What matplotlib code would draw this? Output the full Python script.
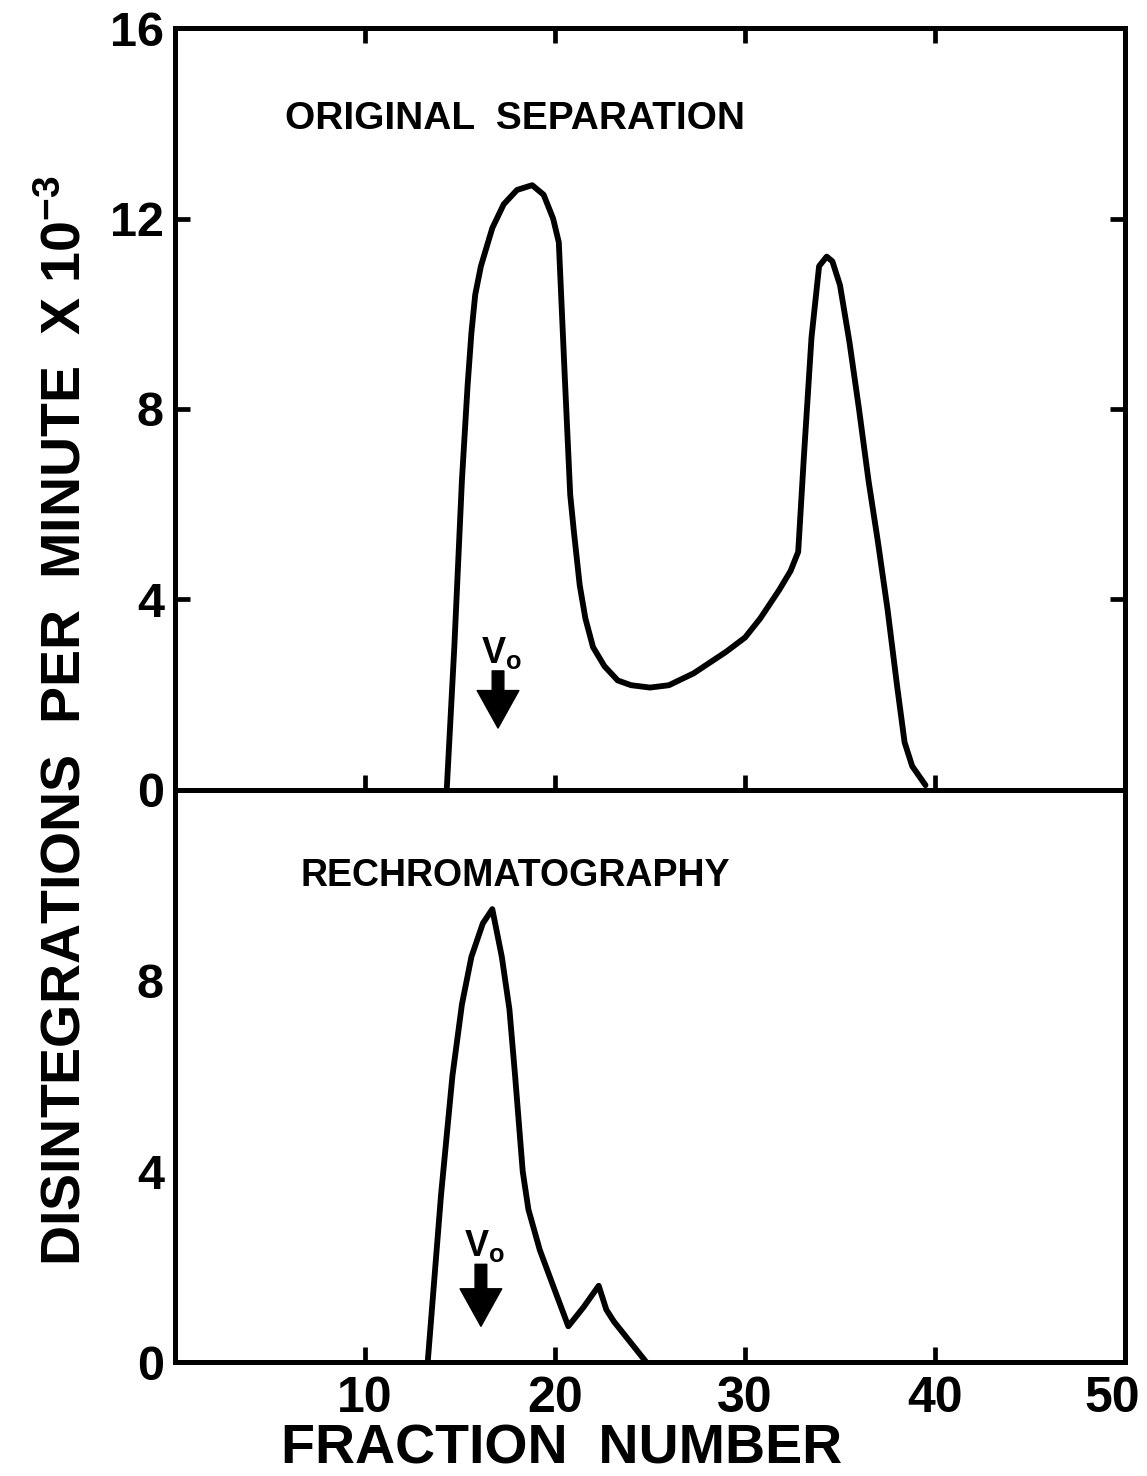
import numpy as np
import matplotlib.pyplot as plt
from matplotlib.transforms import ScaledTranslation

plt.rcParams['font.family'] = ['Liberation Sans', 'DejaVu Sans']
plt.rcParams['font.weight'] = 'bold'
plt.rcParams['mathtext.fontset'] = 'custom'
plt.rcParams['mathtext.rm'] = 'Liberation Sans:bold'
plt.rcParams['mathtext.default'] = 'rm'

# original separation (fraction number, dpm x 10^-3)
orig_x = [14.3, 14.7, 15.1, 15.4, 15.6, 15.8, 16.1, 16.7, 17.3, 18.0, 18.8, 19.4,
          19.9, 20.2, 20.5, 20.8, 21.0, 21.3, 21.6, 22.0, 22.6, 23.3, 24.0, 25.0,
          26.0, 27.3, 29.0, 30.0, 30.8, 31.8, 32.4, 32.8, 33.1, 33.5, 33.9, 34.3,
          34.6, 35.0, 35.5, 36.0, 36.5, 37.0, 37.5, 38.0, 38.4, 38.8, 39.5]
orig_y = [0.0, 3.0, 6.5, 8.5, 9.6, 10.4, 11.0, 11.8, 12.3, 12.6, 12.7, 12.5,
          12.0, 11.5, 8.8, 6.2, 5.4, 4.3, 3.6, 3.0, 2.6, 2.3, 2.2, 2.15,
          2.2, 2.45, 2.9, 3.2, 3.6, 4.2, 4.6, 5.0, 7.0, 9.5, 11.0, 11.2,
          11.1, 10.6, 9.4, 8.0, 6.5, 5.2, 3.8, 2.2, 1.0, 0.5, 0.1]

# rechromatography
rechrom_x = [13.3, 14.0, 14.6, 15.1, 15.6, 16.2, 16.7, 17.2, 17.6, 17.9, 18.3,
             18.6, 19.2, 19.9, 20.7, 21.5, 22.3, 22.7, 23.1, 24.0, 24.8]
rechrom_y = [0.0, 3.5, 6.0, 7.5, 8.5, 9.2, 9.5, 8.5, 7.4, 6.0, 4.0,
             3.2, 2.35, 1.6, 0.75, 1.15, 1.6, 1.1, 0.85, 0.4, 0.0]

x_ticks = [10, 20, 30, 40, 50]
x_labels = ['10', '20', '30', '40', '50']

fig = plt.figure(figsize=(11.47, 14.76), dpi=100)
ax1 = fig.add_axes([0.1526, 0.4648, 0.8282, 0.5162])
ax2 = fig.add_axes([0.1526, 0.0772, 0.8282, 0.3876])

lw = 4.2
for ax in (ax1, ax2):
    for s in ax.spines.values():
        s.set_linewidth(3.6)
    ax.set_xlim(0, 50)
    ax.tick_params(direction='in', length=11, width=3.4, labelsize=35, pad=8)

ax1.plot(orig_x, orig_y, color='k', lw=lw, solid_joinstyle='round', solid_capstyle='round')
ax1.set_ylim(0, 16)
ax1.set_yticks([0, 4, 8, 12, 16])
ax1.set_yticklabels(['0', '4', '8', '12', '16'])
ax1.set_xticks([10, 20, 30, 40])
ax1.tick_params(axis='x', top=True, bottom=True, labelbottom=False)
ax1.tick_params(axis='y', left=True, right=True)
# no tick marks at the box edges
for t in ax1.yaxis.get_major_ticks():
    if t.get_loc() in (0, 16):
        t.tick1line.set_visible(False)
        t.tick2line.set_visible(False)

ax2.plot(rechrom_x, rechrom_y, color='k', lw=lw, solid_joinstyle='round', solid_capstyle='round')
ax2.set_ylim(0, 12)
ax2.set_yticks([0, 4, 8])
ax2.set_xticks(x_ticks)
ax2.set_xticklabels(x_labels)
ax2.tick_params(axis='x', top=False, bottom=True, labelsize=36, pad=10)
ax2.tick_params(axis='y', left=True, right=True)
for t in ax2.yaxis.get_major_ticks():
    if t.get_loc() == 0:
        t.tick1line.set_visible(False)
        t.tick2line.set_visible(False)
for t in ax2.xaxis.get_major_ticks():
    if t.get_loc() == 50:
        t.tick1line.set_visible(False)
        lab = t.label1
        lab.set_transform(lab.get_transform() + ScaledTranslation(-0.13, 0, fig.dpi_scale_trans))

ax1.text(5.8, 14.1, 'ORIGINAL  SEPARATION', fontsize=28, ha='left', va='center')
ax2.text(6.6, 10.2, 'RECHROMATOGRAPHY', fontsize=27, ha='left', va='center')

arrow = dict(arrowstyle='simple,head_length=0.9,head_width=1.0,tail_width=0.28',
             fc='k', ec='k', mutation_scale=30, shrinkA=0, shrinkB=0)
ax1.annotate('', xy=(17.0, 1.3), xytext=(17.0, 2.5), arrowprops=arrow)
ax1.text(17.2, 2.5, 'V$_{\\mathrm{o}}$', fontsize=26, ha='center', va='bottom')
ax2.annotate('', xy=(16.1, 0.75), xytext=(16.1, 2.05), arrowprops=arrow)
ax2.text(16.3, 2.05, 'V$_{\\mathrm{o}}$', fontsize=26, ha='center', va='bottom')

fig.text(0.49, 0.018, 'FRACTION  NUMBER', fontsize=40, fontweight='bold',
         ha='center', va='center')
fig.text(0.058, 0.512, 'DISINTEGRATIONS  PER  MINUTE  X 10$^{-3}$', rotation=90,
         fontsize=40, fontweight='bold', ha='center', va='center')

fig.savefig('out.png', dpi=100, facecolor='white')
